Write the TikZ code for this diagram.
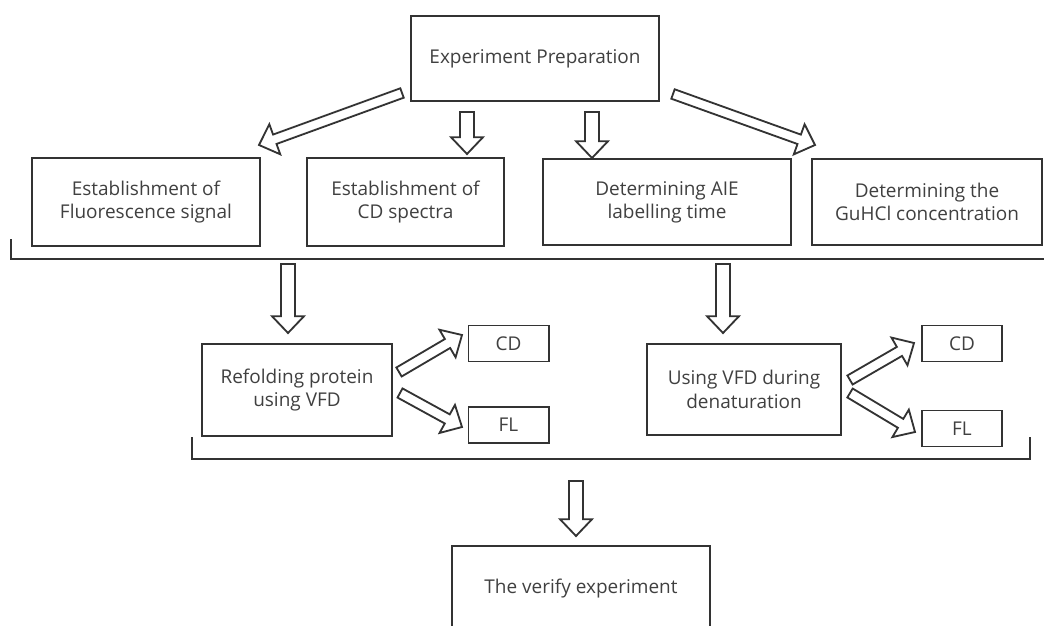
\documentclass[tikz,border=0pt]{standalone}
\usepackage{fontspec}
\setmainfont{Open Sans}
\usepackage{tikz}
\usetikzlibrary{calc}
\definecolor{linegray}{HTML}{333333}
\definecolor{textgray}{HTML}{404040}
\tikzset{
  box/.style={rectangle, draw=linegray, line width=1.4pt, fill=white, text=textgray, align=center, inner sep=0pt, font=\fontsize{13.5}{16.6}\selectfont},
  smallbox/.style={box, minimum width=2cm, minimum height=0.9cm},
  hollow/.style={draw=linegray, line width=1.3pt, fill=white},
  bracket/.style={draw=linegray, line width=1.4pt},
}
% hollow block arrow from #2 to #3, #1 = half shaft width
\newcommand{\bigarrow}[3][0.175cm]{%
  \coordinate (tmpH) at ($(#3)!0.42cm!(#2)$);
  \draw[hollow] ($(#2)!#1!90:(#3)$) -- ($(tmpH)!#1!90:(#3)$) -- ($(tmpH)!0.4cm!90:(#3)$) -- (#3)
    -- ($(tmpH)!0.4cm!-90:(#3)$) -- ($(tmpH)!#1!-90:(#3)$) -- ($(#2)!#1!-90:(#3)$) -- cycle;
}

\begin{document}
\begin{tikzpicture}[x=0.025cm, y=-0.025cm]
  \useasboundingbox (0,0) rectangle (1044,625);

  % Preparation
  \node[box, minimum width=6.2cm, minimum height=2.125cm] (prep) at (535,58.5) {Experiment Preparation};

  % First row
  \node[box, minimum width=5.7cm, minimum height=2.2cm] (fluo) at (146,202) {Establishment of\\Fluorescence signal};
  \node[box, minimum width=4.925cm, minimum height=2.2cm] (cdspec) at (405.5,202) {Establishment of\\CD spectra};
  \node[box, minimum width=6.2cm, minimum height=2.15cm] (aie) at (667,202) {Determining AIE\\labelling time};
  \node[box, minimum width=5.75cm, minimum height=2.15cm] (guhcl) at (927,202) {Determining the\\GuHCl concentration};

  % Second row
  \node[box, minimum width=4.75cm, minimum height=2.3cm] (refold) at (297,390) {Refolding protein\\using VFD};
  \node[smallbox] (cdA) at (508.5,343.5) {CD};
  \node[smallbox] (flA) at (508.5,425) {FL};
  \node[box, minimum width=4.85cm, minimum height=2.275cm] (denat) at (744,389.5) {Using VFD during\\denaturation};
  \node[smallbox] (cdB) at (962,343.5) {CD};
  \node[smallbox] (flB) at (962,428.5) {FL};

  % Verify
  \node[box, minimum width=6.45cm, minimum height=2.15cm] (verify) at (581,589) {The verify experiment};

  % Brackets
  \coordinate (brA1) at (11,239);
  \coordinate (brA2) at (11,259);
  \coordinate (brA3) at (1044,259);
  \draw[bracket] (brA1) -- (brA2) -- (brA3);
  \coordinate (brB1) at (192,437);
  \coordinate (brB2) at (192,459);
  \coordinate (brB3) at (1030,459);
  \coordinate (brB4) at (1030,437);
  \draw[bracket] (brB1) -- (brB2) -- (brB3) -- (brB4);

  % Arrow ends
  \coordinate (pf0) at (402,93);   \coordinate (pf1) at (259,145);
  \coordinate (pc0) at (467,112);  \coordinate (pc1) at (467,154);
  \coordinate (pa0) at (592,112);  \coordinate (pa1) at (592,158);
  \coordinate (pg0) at (673,94);   \coordinate (pg1) at (815,145);
  \coordinate (rf0) at (288,264);  \coordinate (rf1) at (288,333);
  \coordinate (dn0) at (723,264);  \coordinate (dn1) at (723,333);
  \coordinate (rc0) at (399,372);  \coordinate (rc1) at (462,335);
  \coordinate (rl0) at (400,393);  \coordinate (rl1) at (462,427);
  \coordinate (dc0) at (850,380);  \coordinate (dc1) at (914,343);
  \coordinate (dl0) at (850,393);  \coordinate (dl1) at (915,432);
  \coordinate (vf0) at (576,481);  \coordinate (vf1) at (576,536);

  % Arrows
  \bigarrow[0.125cm]{pf0}{pf1}
  \bigarrow{pc0}{pc1}
  \bigarrow{pa0}{pa1}
  \bigarrow[0.125cm]{pg0}{pg1}
  \bigarrow{rf0}{rf1}
  \bigarrow{dn0}{dn1}
  \bigarrow[0.13cm]{rc0}{rc1}
  \bigarrow[0.13cm]{rl0}{rl1}
  \bigarrow[0.13cm]{dc0}{dc1}
  \bigarrow[0.13cm]{dl0}{dl1}
  \bigarrow{vf0}{vf1}
\end{tikzpicture}
\end{document}
